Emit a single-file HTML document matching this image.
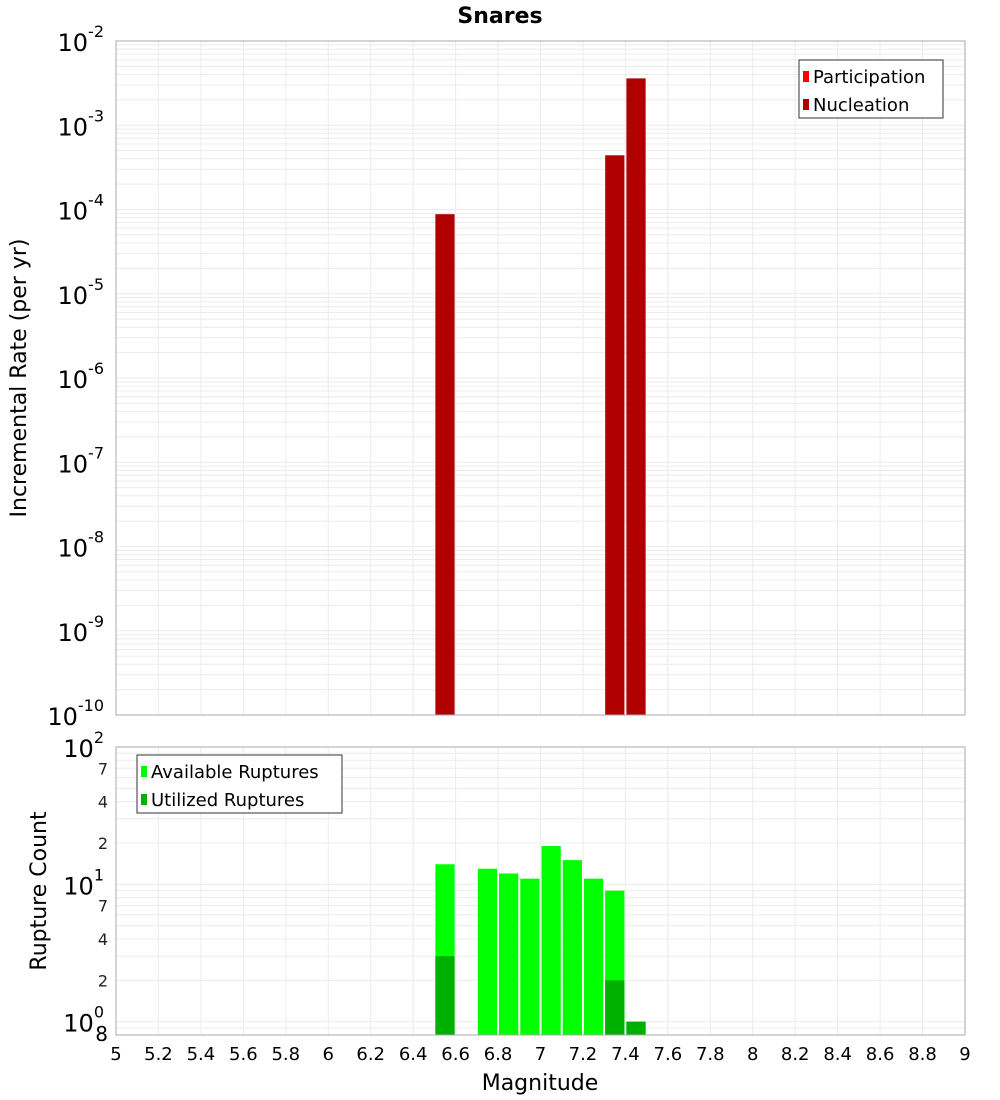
<!DOCTYPE html>
<html><head><meta charset="utf-8"><style>
html,body{margin:0;padding:0;background:#fff;}
svg{display:block;font-family:"DejaVu Sans","Liberation Sans",sans-serif;}
</style></head><body>
<svg id="c" width="1000" height="1100" xmlns="http://www.w3.org/2000/svg"></svg>
<script>
const topBins=[6.55,7.35,7.45];
const topRates=[8.8e-5,4.4e-4,3.6e-3];
const botBins=[6.55,6.75,6.85,6.95,7.05,7.15,7.25,7.35,7.45];
const availCounts=[14,13,12,11,19,15,11,9,1];
const usedBins=[6.55,7.35,7.45];
const usedCounts=[3,2,1];
const xTicks=[5,5.2,5.4,5.6,5.8,6,6.2,6.4,6.6,6.8,7,7.2,7.4,7.6,7.8,8,8.2,8.4,8.6,8.8,9];
const topExps=[-2,-3,-4,-5,-6,-7,-8,-9,-10];
const botMinor=[7,4,2];

const svg=document.getElementById('c');
const NS='http://www.w3.org/2000/svg';
function mk(t,a,p){const e=document.createElementNS(NS,t);for(const k in a)e.setAttribute(k,a[k]);(p||svg).appendChild(e);return e;}
const L=116,R=965;
const x=v=>L+(v-5)/(9-5)*(R-L);
const T0=41,T1=715;
const yT=v=>T0+(-2-Math.log10(v))/8*(T1-T0);
const B0=747,B1=1035,bMin=Math.log10(0.8),bMax=2;
const yB=v=>B0+(bMax-Math.log10(v))/(bMax-bMin)*(B1-B0);
const bw=(R-L)/40;

// title
let t=mk('text',{x:500,y:23,'text-anchor':'middle','font-size':22,'font-weight':'bold',fill:'#000'});t.textContent='Snares';



// grids top
const gt=mk('g',{});


for(let e=-10;e<-2;e++)for(let m=1;m<10;m++){const yy=yT(m*Math.pow(10,e));mk('line',{x1:L,x2:R,y1:yy,y2:yy,stroke:'#ececec','stroke-width':1},gt);}
xTicks.forEach(v=>mk('line',{x1:x(v),x2:x(v),y1:T0,y2:T1,stroke:'#ececec'},gt));
const gb=mk('g',{});


for(let e=-1;e<2;e++)for(let m=1;m<10;m++){const v=m*Math.pow(10,e);if(v<0.8)continue;const yy=yB(v);mk('line',{x1:L,x2:R,y1:yy,y2:yy,stroke:'#ececec'},gb);}
xTicks.forEach(v=>mk('line',{x1:x(v),x2:x(v),y1:B0,y2:B1,stroke:'#ececec'},gb));

// top bars
topBins.forEach((b,i)=>{const r=mk('rect',{x:x(b)-bw/2+1,y:yT(topRates[i]),width:bw-2,height:T1-yT(topRates[i]),fill:'#b00000'});

});
// bottom bars
botBins.forEach((b,i)=>{const r=mk('rect',{x:x(b)-bw/2+1,y:yB(availCounts[i]),width:bw-2,height:B1-yB(availCounts[i]),fill:'#00ff00'});

});
usedBins.forEach((b,i)=>{const r=mk('rect',{x:x(b)-bw/2+1,y:yB(usedCounts[i]),width:bw-2,height:B1-yB(usedCounts[i]),fill:'#00b000'});

});

// frames
mk('rect',{x:L,y:T0,width:R-L,height:T1-T0,fill:'none',stroke:'#aaa'});
mk('rect',{x:L,y:B0,width:R-L,height:B1-B0,fill:'none',stroke:'#aaa'});

// top y labels
topExps.forEach(e=>{const yy=yT(Math.pow(10,e));const tx=mk('text',{x:104,y:yy+10,'text-anchor':'end','font-size':24,fill:'#000'});


const a=mk('tspan',{},tx);a.textContent='10';const s=mk('tspan',{dy:-14,'font-size':16},tx);s.textContent=String(e);});
// bottom y labels
[[100,'2'],[10,'1'],[1,'0']].forEach(([v,e])=>{const yy=yB(v);const tx=mk('text',{x:104,y:yy+10,'text-anchor':'end','font-size':24,fill:'#000'});


const a=mk('tspan',{},tx);a.textContent='10';const s=mk('tspan',{dy:-14,'font-size':16},tx);s.textContent=e;});
[10,1].forEach(d=>botMinor.forEach(m=>{const yy=yB(m*d);const tx=mk('text',{x:108,y:yy+6,'text-anchor':'end','font-size':16,fill:'#222'});tx.textContent=String(m);

}));
t=mk('text',{x:108,y:1041,'text-anchor':'end','font-size':20,fill:'#000'});t.textContent='8';

// x labels
xTicks.forEach(v=>{const tx=mk('text',{x:x(v),y:1060,'text-anchor':'middle','font-size':18,fill:'#000'});tx.textContent=String(v);

});
t=mk('text',{x:540,y:1090,'text-anchor':'middle','font-size':22,fill:'#000'});t.textContent='Magnitude';


t=mk('text',{x:26,y:378,'text-anchor':'middle','font-size':22,fill:'#000',transform:'rotate(-90 26 378)'});t.textContent='Incremental Rate (per yr)';


t=mk('text',{x:46,y:891,'text-anchor':'middle','font-size':22,fill:'#000',transform:'rotate(-90 46 891)'});t.textContent='Rupture Count';



// legends
function legend(lx,ly,w,items,name){const g=mk('g',{});


mk('rect',{x:lx,y:ly,width:w,height:58,fill:'#fff',stroke:'#333'},g);
items.forEach(([c,s],i)=>{mk('rect',{x:lx+4,y:ly+11+i*28,width:6,height:11,fill:c},g);const tx=mk('text',{x:lx+14,y:ly+23+i*28,'font-size':18,fill:'#000'},g);tx.textContent=s;});}
legend(799,60,144,[['#ff0000','Participation'],['#b00000','Nucleation']],'top-legend');
legend(137,755,205,[['#00ff00','Available Ruptures'],['#00b000','Utilized Ruptures']],'bottom-legend');
</script>
</body></html>
